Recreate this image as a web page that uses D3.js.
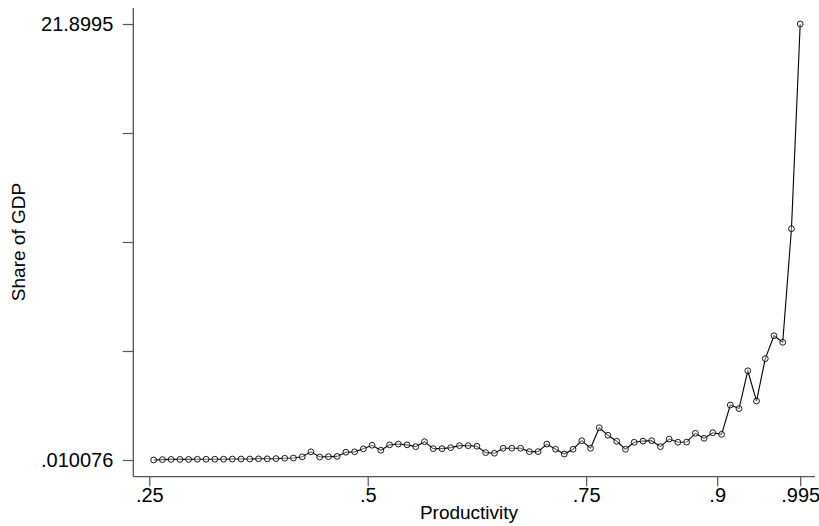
<!DOCTYPE html>
<html>
<head>
<meta charset="utf-8">
<script src="https://cdn.jsdelivr.net/npm/d3@7"></script>
<style>
    body { margin: 0; background: #fff; }
    svg { display: block; font-family: "Liberation Sans", Arial, sans-serif; }
</style>
</head>
<body>
<svg id="chart" width="819" height="526"></svg>
<script>
// Productivity percentiles (x) and share of GDP (y)
const productivity = [
    0.255, 0.265, 0.275, 0.285, 0.295, 0.305, 0.315, 0.325, 0.335, 0.345,
    0.355, 0.365, 0.375, 0.385, 0.395, 0.405, 0.415, 0.425, 0.435, 0.445,
    0.455, 0.465, 0.475, 0.485, 0.495, 0.505, 0.515, 0.525, 0.535, 0.545,
    0.555, 0.565, 0.575, 0.585, 0.595, 0.605, 0.615, 0.625, 0.635, 0.645,
    0.655, 0.665, 0.675, 0.685, 0.695, 0.705, 0.715, 0.725, 0.735, 0.745,
    0.755, 0.765, 0.775, 0.785, 0.795, 0.805, 0.815, 0.825, 0.835, 0.845,
    0.855, 0.865, 0.875, 0.885, 0.895, 0.905, 0.915, 0.925, 0.935, 0.945,
    0.955, 0.965, 0.975, 0.985, 0.995
];
const shareOfGDP = [
    0.010076, 0.03, 0.04, 0.04, 0.04, 0.05, 0.05, 0.05, 0.05, 0.06,
    0.06, 0.06, 0.07, 0.07, 0.08, 0.10, 0.11, 0.17, 0.42, 0.16,
    0.18, 0.19, 0.40, 0.42, 0.57, 0.75, 0.50, 0.77, 0.81, 0.77,
    0.68, 0.93, 0.58, 0.58, 0.63, 0.73, 0.73, 0.70, 0.38, 0.35,
    0.60, 0.60, 0.60, 0.43, 0.43, 0.81, 0.55, 0.31, 0.55, 0.98,
    0.60, 1.63, 1.25, 0.95, 0.55, 0.90, 0.96, 0.98, 0.68, 1.06,
    0.90, 0.91, 1.35, 1.10, 1.38, 1.30, 2.77, 2.59, 4.49, 2.97,
    5.10, 6.25, 5.92, 11.62, 21.8995
];

const xTicks = [0.25, 0.5, 0.75, 0.9, 0.995];
const xTickLabels = [".25", ".5", ".75", ".9", ".995"];
const yTicks = [0.010076, 5.482432, 10.954788, 16.427144, 21.8995];
const yTickLabels = [".010076", "", "", "", "21.8995"];

let svg = d3.select("#chart");

// plot frame: left axis line at x=133, bottom axis line at y=476.7
const axisLeftX = 133.3,
    axisBottomY = 476.7;

let x = d3.scaleLinear()
    .domain([0.25, 0.995])
    .range([149.3, 800.2]);

let y = d3.scaleLinear()
    .domain([0.010076, 21.8995])
    .range([460, 24]);

// y axis
let yAxis = svg.append("g")
    .attr("transform", `translate(${axisLeftX},0)`)
    .call(d3.axisLeft(y)
        .tickValues(yTicks)
        .tickFormat(function (d, i) {
            return yTickLabels[i];
        })
        .tickSize(10.5)
        .tickPadding(9.5));
yAxis.select(".domain").remove();
yAxis.selectAll("line").attr("stroke", "#555").attr("stroke-width", 1.2);
yAxis.selectAll("text").attr("font-size", 20).attr("fill", "#000");

// x axis
let xAxis = svg.append("g")
    .attr("transform", `translate(0,${axisBottomY})`)
    .call(d3.axisBottom(x)
        .tickValues(xTicks)
        .tickFormat(function (d, i) {
            return xTickLabels[i];
        })
        .tickSize(9.5)
        .tickPadding(2));
xAxis.select(".domain").remove();
xAxis.selectAll("line").attr("stroke", "#555").attr("stroke-width", 1.2);
xAxis.selectAll("text").attr("font-size", 20).attr("fill", "#000");

// axis lines
svg.append("line")
    .attr("x1", axisLeftX).attr("x2", axisLeftX)
    .attr("y1", 8).attr("y2", axisBottomY)
    .attr("stroke", "#555").attr("stroke-width", 1.3);
svg.append("line")
    .attr("x1", axisLeftX).attr("x2", 815)
    .attr("y1", axisBottomY).attr("y2", axisBottomY)
    .attr("stroke", "#555").attr("stroke-width", 1.3);

// axis titles
svg.append("text")
    .attr("x", 469)
    .attr("y", 519)
    .attr("text-anchor", "middle")
    .attr("font-size", 19)
    .text("Productivity");

svg.append("text")
    .attr("transform", "translate(24.5,242) rotate(-90)")
    .attr("text-anchor", "middle")
    .attr("font-size", 19)
    .text("Share of GDP");

// connected line
let points = productivity.map(function (p, i) {
    return [p, shareOfGDP[i]];
});

svg.append("path")
    .datum(points)
    .attr("fill", "none")
    .attr("stroke", "#000")
    .attr("stroke-width", 1.1)
    .attr("d", d3.line()
        .x(function (d) { return x(d[0]); })
        .y(function (d) { return y(d[1]); }));

// hollow circle markers
svg.append("g")
    .selectAll("circle")
    .data(points)
    .enter()
    .append("circle")
    .attr("cx", function (d) { return x(d[0]); })
    .attr("cy", function (d) { return y(d[1]); })
    .attr("r", 2.9)
    .attr("fill", "#fff")
    .attr("fill-opacity", 0.4)
    .attr("stroke", "#000")
    .attr("stroke-width", 0.9);
</script>
</body>
</html>
